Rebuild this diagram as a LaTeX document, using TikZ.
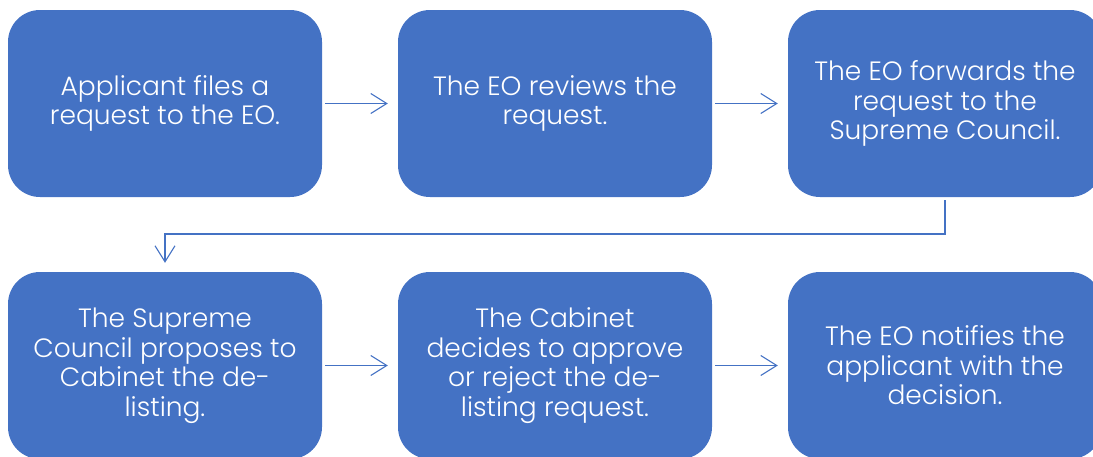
\documentclass[tikz,border=0pt]{standalone}
\usepackage{fontspec}
\setmainfont{Poppins Light}
\usetikzlibrary{arrows.meta}
\definecolor{obl}{HTML}{4472C4}
\tikzset{
  stepbox/.style={fill=obl, rounded corners=32pt, minimum width=314pt, minimum height=187pt,
    text=white, align=center, inner sep=0pt,
    font=\fontsize{26.5}{29.5}\selectfont},
  conn/.style={draw=obl, line width=1.1pt, -{Straight Barb[length=16pt,width=20pt,line width=1.1pt]}}
}
\begin{document}
\begin{tikzpicture}[x=1pt,y=-1pt]
\useasboundingbox (0,0) rectangle (1093,456);
\clip (0,0) rectangle (1093,456);
\node[stepbox] (a) at (165,103.5) {Applicant files a\\request to the EO.};
\node[stepbox] (b) at (555,103.5) {The EO reviews the\\request.};
\node[stepbox] (c) at (945,103.5) {The EO forwards the\\request to the\\Supreme Council.};
\node[stepbox] (d) at (165,365.5) {The Supreme\\Council proposes to\\Cabinet the de-\\listing.};
\node[stepbox] (e) at (555,365.5) {The Cabinet\\decides to approve\\or reject the de-\\listing request.};
\node[stepbox] (f) at (945,365.5) {The EO notifies the\\applicant with the\\decision.};
\draw[conn, shorten <=3pt, shorten >=10pt] (a) -- (b);
\draw[conn, shorten <=3pt, shorten >=10pt] (b) -- (c);
\draw[conn, shorten <=3pt, shorten >=10pt] (d) -- (e);
\draw[conn, shorten <=3pt, shorten >=10pt] (e) -- (f);
\coordinate (m) at (945,234);
\draw[conn, shorten <=3pt, shorten >=9pt] (c.south) -- (m) -| (d.north);
\end{tikzpicture}
\end{document}
